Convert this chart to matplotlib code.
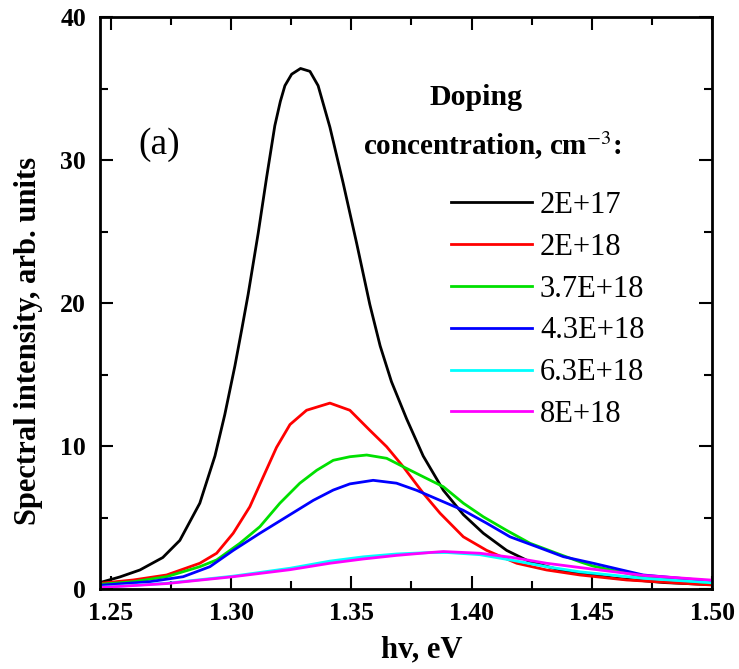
import matplotlib
matplotlib.use("Agg")
import matplotlib.pyplot as plt
from matplotlib.ticker import MultipleLocator

plt.rcParams['font.family'] = ['Liberation Serif', 'DejaVu Serif']
plt.rcParams['mathtext.fontset'] = 'stix'

# data
labels = ['2E+17', '2E+18', '3.7E+18', '4.3E+18', '6.3E+18', '8E+18']
colors = ['black', '#ff0000', '#00e000', '#0000ff', '#00ffff', '#ff00ff']

x_2e17 = [1.2455, 1.2537, 1.2621, 1.2716, 1.2787, 1.287, 1.2933, 1.2974, 1.3016, 1.3045,
          1.3071, 1.3113, 1.3148, 1.3182, 1.3205, 1.3224, 1.3252, 1.3289, 1.3328, 1.3362,
          1.3411, 1.3466, 1.3522, 1.3577, 1.362, 1.3667, 1.373, 1.3799, 1.3883, 1.3966,
          1.4049, 1.4146, 1.4243, 1.4368, 1.4451, 1.46, 1.48, 1.50]
y_2e17 = [0.45, 0.84, 1.33, 2.2, 3.4, 6.0, 9.3, 12.2, 15.6, 18.2,
          20.6, 24.9, 28.8, 32.4, 34.1, 35.2, 36.0, 36.4, 36.2, 35.2,
          32.3, 28.4, 24.2, 19.9, 17.0, 14.5, 11.9, 9.3, 6.9, 5.2,
          3.9, 2.7, 1.9, 1.33, 1.1, 0.75, 0.45, 0.3]

x_2e18 = [1.2455, 1.2593, 1.2732, 1.287, 1.294, 1.3009, 1.3078, 1.3134, 1.3189, 1.3245,
          1.3314, 1.3411, 1.3494, 1.3577, 1.3647, 1.3716, 1.3799, 1.3869, 1.3966, 1.4063,
          1.4188, 1.4312, 1.4451, 1.4645, 1.50]
y_2e18 = [0.4, 0.63, 0.98, 1.8, 2.5, 3.9, 5.75, 7.85, 9.9, 11.5,
          12.5, 13.0, 12.5, 11.1, 9.95, 8.55, 6.7, 5.3, 3.65, 2.7,
          1.8, 1.33, 0.98, 0.63, 0.28]

x_37e18 = [1.2455, 1.2593, 1.2732, 1.287, 1.294, 1.3037, 1.312, 1.3203, 1.3286, 1.3356,
           1.3425, 1.3494, 1.3564, 1.3647, 1.3716, 1.3799, 1.3883, 1.3966, 1.4049, 1.4146,
           1.4243, 1.4354, 1.4451, 1.4506, 1.4713, 1.50]
y_37e18 = [0.33, 0.51, 0.86, 1.56, 2.03, 3.2, 4.36, 6.0, 7.4, 8.3,
           9.0, 9.25, 9.37, 9.14, 8.55, 7.85, 7.15, 6.0, 5.05, 4.1,
           3.2, 2.5, 1.9, 1.6, 0.86, 0.42]

x_43e18 = [1.2455, 1.2662, 1.2801, 1.2912, 1.3009, 1.312, 1.3231, 1.3342, 1.3425, 1.3494,
           1.3591, 1.3688, 1.3772, 1.3869, 1.3966, 1.4063, 1.416, 1.4271, 1.4382, 1.4506,
           1.4714, 1.50]
y_43e18 = [0.26, 0.51, 0.86, 1.56, 2.7, 3.9, 5.05, 6.2, 6.92, 7.35,
           7.6, 7.4, 6.9, 6.2, 5.5, 4.6, 3.65, 2.96, 2.26, 1.8,
           0.98, 0.55]

x_63e18 = [1.2455, 1.2732, 1.3009, 1.3245, 1.3411, 1.355, 1.3688, 1.3827, 1.39, 1.4035,
           1.4172, 1.4312, 1.4451, 1.4714, 1.50]
y_63e18 = [0.12, 0.4, 0.9, 1.45, 1.95, 2.25, 2.45, 2.55, 2.55, 2.4,
           2.0, 1.56, 1.2, 0.75, 0.44]

x_8e18 = [1.2455, 1.2732, 1.3009, 1.3245, 1.3411, 1.355, 1.3688, 1.3827, 1.3883, 1.4035,
          1.4172, 1.4312, 1.4451, 1.4714, 1.50]
y_8e18 = [0.1, 0.38, 0.86, 1.35, 1.8, 2.1, 2.35, 2.55, 2.62, 2.5,
          2.2, 1.8, 1.5, 0.95, 0.62]

series = [(x_2e17, y_2e17), (x_2e18, y_2e18), (x_37e18, y_37e18),
          (x_43e18, y_43e18), (x_63e18, y_63e18), (x_8e18, y_8e18)]

W, H = 739, 669
fig = plt.figure(figsize=(W / 100, H / 100), dpi=100)
ax = fig.add_axes([100 / W, 1 - 589 / H, 612 / W, 572 / H])

for (xs, ys), c, lab in zip(series, colors, labels):
    ax.plot(xs, ys, color=c, lw=2.0, label=lab, solid_joinstyle='round')

ax.set_xlim(1.2455, 1.50)
ax.set_ylim(0, 40)
ax.xaxis.set_major_locator(MultipleLocator(0.05))
ax.xaxis.set_minor_locator(MultipleLocator(0.025))
ax.yaxis.set_major_locator(MultipleLocator(10))
ax.yaxis.set_minor_locator(MultipleLocator(5))
ax.xaxis.set_major_formatter(plt.FormatStrFormatter('%.2f'))

ax.tick_params(which='both', direction='in', top=True, right=True, width=1.5)
ax.tick_params(which='major', length=9.5, labelsize=18.5)
ax.tick_params(axis='x', which='major', pad=9)
ax.tick_params(axis='y', which='major', pad=10)
ax.tick_params(which='minor', length=6)
for lbl in ax.get_xticklabels() + ax.get_yticklabels():
    lbl.set_fontweight('bold')
for sp in ax.spines.values():
    sp.set_linewidth(2)

# axis titles
fig.text(422 / W, 1 - 650 / H, 'hv, eV', fontsize=22, fontweight='bold',
         ha='center', va='center')
fig.text(29 / W, 1 - 341 / H, 'Spectral intensity, arb. units', fontsize=22,
         fontweight='bold', ha='center', va='center', rotation=90)

ax.text(0.0964, 0.776, '(a)', transform=ax.transAxes, fontsize=27, ha='center', va='center')
ax.text(0.6144, 0.846, 'Doping', transform=ax.transAxes, fontsize=21.5,
        fontweight='bold', ha='center', va='baseline')
ax.text(0.6415, 0.7594, 'concentration, cm$^{-3}$:', transform=ax.transAxes, fontsize=21,
        fontweight='bold', ha='center', va='baseline')

ax.legend(loc='upper left', bbox_to_anchor=(0.5735, 0.696), frameon=False, fontsize=22,
          handlelength=2.65, handletextpad=0.26, labelspacing=0.42, borderaxespad=0,
          borderpad=0)

fig.savefig('out.png', dpi=100)
